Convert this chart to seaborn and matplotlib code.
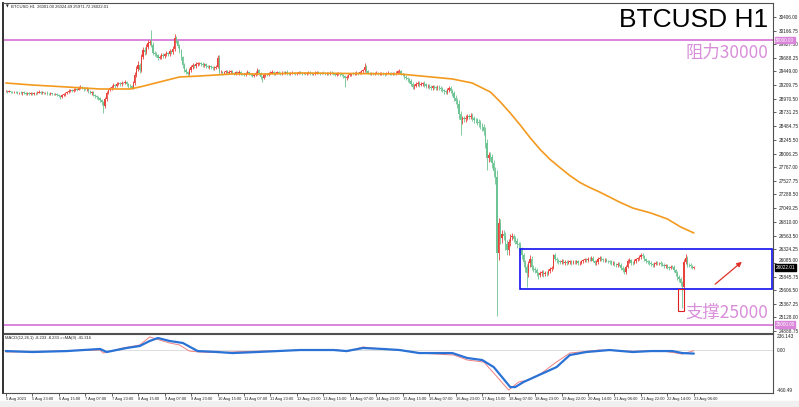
import matplotlib
matplotlib.use("Agg")
import matplotlib.pyplot as plt
import seaborn as sns
import pandas as pd
from matplotlib.patches import Rectangle

# ---------------- data ----------------
first_open = 29100
closes = [
    29110, 29095, 29102, 29088, 29080, 29092, 29085, 29070, 29075, 29066, 29080, 29072, 29060, 29068, 29058, 29062,
    29055, 29070, 29064, 29078, 29085, 29072, 29080, 29066, 29074, 29060, 29052, 29064, 29058, 29045, 29050, 29036,
    29020, 29002, 29030, 29048, 29070, 29088, 29105, 29123, 29110, 29128, 29140, 29132, 29155, 29176, 29160, 29140,
    29135, 29150, 29100, 29071, 29080, 29040, 29020, 29000, 28985, 28948, 28905, 28850, 28960, 29070, 29120, 29150,
    29180, 29211, 29195, 29225, 29240, 29220, 29250, 29246, 29265, 29230, 29200, 29185, 29165, 29240, 29380, 29500,
    29560, 29480, 29700, 29826, 29790, 29880, 29949, 29960, 29920, 29780, 29760, 29730, 29690, 29703, 29740, 29720,
    29750, 29773, 29760, 29800, 29791, 29850, 30030, 29980, 29900, 29820, 29700, 29560, 29480, 29440, 29410, 29470,
    29520, 29560, 29540, 29575, 29590, 29598, 29580, 29560, 29575, 29545, 29528, 29540, 29520, 29505, 29515, 29530,
    29690, 29440, 29445, 29420, 29435, 29450, 29430, 29440, 29455, 29425, 29410, 29435, 29420, 29445, 29410, 29400,
    29395, 29420, 29440, 29410, 29390, 29375, 29385, 29420, 29470, 29420, 29360, 29340, 29380, 29400, 29395, 29420,
    29430, 29445, 29415, 29425, 29440, 29420, 29410, 29430, 29425, 29445, 29420, 29405, 29415, 29430, 29420, 29410,
    29425, 29440, 29430, 29415, 29420, 29410, 29425, 29435, 29415, 29400, 29410, 29425, 29440, 29420, 29415, 29430,
    29420, 29410, 29425, 29415, 29430, 29420, 29405, 29395, 29410, 29420, 29400, 29385, 29370, 29330, 29360, 29390,
    29400, 29410, 29405, 29420, 29430, 29415, 29435, 29450, 29470, 29530, 29460, 29420, 29410, 29425, 29415, 29420,
    29430, 29410, 29420, 29425, 29410, 29400, 29415, 29430, 29420, 29410, 29425, 29415, 29430, 29450, 29460, 29410,
    29395, 29360, 29330, 29310, 29290, 29230, 29180, 29200, 29230, 29250, 29215, 29230, 29245, 29220, 29190, 29200,
    29175, 29160, 29190, 29170, 29150, 29180, 29160, 29140, 29120, 29100, 29085, 29120, 29160, 29110, 29070, 28990,
    28930, 28880, 28700, 28590, 28630, 28610, 28640, 28660, 28650, 28670, 28630, 28600, 28590, 28560, 28540, 28500,
    28470, 28400, 28190, 27930, 27980, 27950, 27840, 27700, 27590, 26260, 26787, 26520, 26600, 26560, 26420, 26310,
    26450, 26540, 26560, 26500, 26470, 26420, 26400, 26320, 26220, 26100, 26010, 25910, 26080, 26160, 26010, 25980,
    25960, 25900, 25870, 25900, 25925, 25890, 25910, 25905, 25950, 25980, 26000, 26220, 26150, 26130, 26110, 26100,
    26120, 26090, 26105, 26085, 26100, 26110, 26090, 26100, 26095, 26110, 26080, 26085, 26110, 26130, 26150, 26136,
    26160, 26150, 26171, 26120, 26085, 26100, 26150, 26180, 26150, 26130, 26140, 26120, 26110, 26100, 26080, 26090,
    26060, 26050, 26070, 26048, 26000, 25960, 25926, 26020, 26110, 26136, 26090, 26084, 26120, 26150, 26171, 26190,
    26230, 26200, 26150, 26110, 26100, 26080, 26060, 26048, 26070, 26090, 26080, 26084, 26060, 26050, 26030, 26040,
    26013, 26000, 26020, 26013, 25960, 25908, 25838, 25800, 25733, 25662, 26100, 26171, 26050, 26048, 26030, 26001,
    26022.01,
]
upper_wick = [
    20, 15, 25, 10, 18, 22, 12, 20, 15, 25, 10, 18, 20, 12, 15, 22,
    18, 25, 12, 20, 30, 15, 22, 10, 18, 25, 12, 20, 15, 18, 22, 15,
    20, 15, 30, 25, 18, 20, 35, 22, 15, 28, 20, 15, 30, 35, 18, 20,
    22, 30, 15, 20, 18, 25, 15, 20, 12, 18, 25, 30, 40, 35, 25, 30,
    25, 30, 20, 35, 25, 20, 30, 22, 35, 20, 15, 25, 20, 40, 60, 50,
    70, 40, 60, 50, 45, 60, 55, 40, 218, 50, 30, 35, 25, 40, 30, 35,
    30, 40, 25, 35, 30, 50, 80, 40, 30, 40, 30, 25, 35, 30, 25, 40,
    35, 30, 25, 40, 30, 25, 20, 30, 25, 20, 25, 30, 20, 25, 30, 25,
    50, 40, 25, 20, 30, 25, 20, 30, 25, 20, 15, 30, 20, 25, 20, 15,
    20, 25, 30, 15, 20, 25, 20, 30, 40, 25, 20, 15, 25, 20, 18, 22,
    20, 25, 15, 22, 18, 20, 15, 25, 20, 18, 22, 15, 20, 25, 18, 20,
    18, 22, 20, 15, 25, 18, 20, 22, 15, 18, 20, 25, 22, 18, 20, 15,
    20, 15, 22, 18, 25, 20, 15, 18, 22, 20, 15, 20, 18, 25, 20, 22,
    20, 18, 22, 25, 20, 15, 22, 25, 30, 70, 25, 20, 18, 22, 20, 18,
    22, 18, 20, 15, 22, 18, 20, 25, 18, 20, 22, 15, 25, 30, 25, 20,
    20, 25, 22, 30, 25, 35, 30, 25, 28, 35, 25, 30, 22, 28, 25, 30,
    25, 30, 28, 25, 30, 35, 25, 28, 30, 25, 22, 30, 35, 25, 30, 35,
    40, 45, 60, 50, 45, 40, 50, 45, 40, 50, 45, 40, 35, 40, 45, 50,
    50, 60, 70, 80, 60, 50, 55, 60, 70, 120, 80, 70, 60, 55, 70, 60,
    60, 50, 45, 40, 55, 45, 40, 45, 40, 35, 40, 50, 45, 60, 45, 40,
    40, 35, 30, 35, 40, 30, 35, 30, 35, 40, 30, 30, 35, 40, 30, 35,
    30, 35, 25, 30, 35, 30, 25, 30, 35, 30, 25, 30, 35, 30, 25, 30,
    30, 25, 35, 30, 25, 30, 35, 30, 25, 30, 35, 30, 25, 30, 35, 30,
    30, 25, 30, 35, 30, 25, 30, 35, 40, 30, 25, 30, 35, 30, 25, 30,
    30, 35, 30, 25, 30, 35, 30, 25, 30, 35, 30, 25, 30, 35, 30, 25,
    30, 25, 30, 35, 30, 25, 30, 35, 30, 40, 50, 70, 30, 25, 30, 25,
    2.48,
]
lower_wick = [
    15, 20, 12, 25, 18, 15, 22, 18, 20, 15, 25, 12, 18, 20, 15, 18,
    20, 15, 22, 18, 12, 25, 15, 20, 18, 22, 15, 20, 25, 18, 15, 22,
    25, 30, 20, 15, 22, 18, 20, 15, 25, 20, 18, 22, 15, 20, 25, 30,
    20, 25, 30, 22, 35, 25, 30, 28, 35, 40, 50, 131, 40, 30, 25, 20,
    25, 20, 30, 25, 20, 30, 25, 20, 25, 30, 35, 25, 30, 25, 30, 35,
    40, 60, 45, 35, 50, 40, 35, 40, 45, 50, 40, 35, 40, 30, 35, 40,
    35, 30, 40, 35, 30, 35, 40, 35, 45, 40, 50, 45, 40, 35, 40, 30,
    30, 35, 25, 30, 35, 25, 30, 25, 30, 35, 25, 30, 25, 30, 25, 20,
    25, 30, 20, 25, 20, 25, 30, 20, 25, 20, 30, 25, 20, 25, 30, 20,
    20, 25, 20, 30, 25, 20, 25, 20, 25, 30, 40, 80, 30, 25, 20, 22,
    18, 22, 20, 25, 18, 20, 22, 15, 20, 18, 25, 20, 22, 18, 20, 25,
    20, 18, 22, 20, 15, 22, 18, 20, 25, 20, 18, 22, 20, 15, 22, 18,
    22, 20, 18, 25, 20, 22, 25, 20, 18, 22, 25, 20, 30, 150, 35, 25,
    20, 22, 18, 20, 25, 20, 18, 22, 20, 25, 30, 22, 20, 18, 25, 20,
    18, 22, 20, 25, 18, 22, 20, 18, 25, 20, 18, 22, 20, 18, 25, 30,
    30, 35, 30, 40, 35, 45, 40, 35, 30, 40, 35, 30, 35, 40, 35, 30,
    30, 35, 30, 28, 35, 30, 40, 35, 30, 40, 35, 30, 40, 45, 50, 60,
    60, 80, 90, 260, 60, 50, 45, 50, 40, 45, 50, 55, 45, 50, 60, 55,
    60, 70, 80, 210, 80, 70, 90, 100, 110, 1107, 120, 110, 90, 80, 100, 90,
    80, 70, 60, 55, 60, 70, 65, 60, 70, 80, 90, 248, 70, 60, 55, 50,
    50, 45, 60, 40, 45, 50, 40, 45, 40, 35, 40, 30, 35, 40, 45, 35,
    35, 30, 35, 30, 25, 30, 35, 30, 25, 30, 35, 30, 25, 30, 35, 30,
    30, 35, 30, 25, 30, 35, 30, 25, 30, 35, 30, 25, 30, 35, 30, 25,
    30, 35, 30, 25, 35, 30, 40, 30, 25, 30, 35, 30, 25, 30, 35, 30,
    30, 25, 30, 35, 30, 25, 30, 35, 30, 25, 30, 35, 30, 25, 30, 35,
    30, 35, 30, 25, 40, 45, 50, 45, 50, 369, 40, 35, 30, 35, 30, 25,
    29.28,
]

ma_bars = [0, 16, 37, 57, 75, 81, 93, 105, 117, 137, 158, 178, 238, 270, 282, 293, 299, 305, 311,
           317, 323, 329, 335, 341, 347, 353, 359, 365, 371, 379, 390, 400, 408, 416]
ma_vals = [29246, 29211, 29176, 29141, 29141, 29176, 29264, 29352, 29369, 29405, 29405, 29422, 29405,
           29317, 29246, 29088, 28913, 28719, 28508, 28285, 28080, 27905, 27760, 27620, 27500, 27410,
           27331, 27243, 27155, 27050, 26962, 26857, 26717, 26611]

macd_bars = [0, 16, 37, 57, 61, 73, 81, 87, 92, 99, 107, 116, 128, 137, 152, 178, 198, 206, 216, 228,
             238, 250, 270, 279, 288, 295, 305, 308, 313, 325, 333, 341, 351, 365, 379, 390, 403, 409, 416]
macd_vals = [-12, -23, -12, 12, -23, 23, 46, 104, 138, 104, 81, -12, -23, -35, -23, 0, 0, -12, 23, 12,
             0, -35, -35, -92, -115, -196, -426, -426, -368, -265, -196, -58, -23, 0, -23, -12, -12, -35, -41]
sig_bars = [0, 20, 40, 57, 59, 70, 81, 87, 93, 99, 105, 111, 117, 128, 140, 160, 180, 200, 206, 216,
            228, 238, 250, 271, 279, 289, 295, 304, 310, 316, 324, 332, 341, 359, 380, 395, 409, 416]
sig_vals = [-23, -20, -5, 0, -35, 20, 58, 150, 115, 81, 58, -12, -23, -30, -20, -10, 0, 5, -20, 35,
            10, 0, -35, -58, -115, -138, -265, -460, -368, -345, -265, -150, -35, 0, -15, -5, -46, -8]

xtick_labels = ["5 Aug 2023", "5 Aug 23:00", "6 Aug 15:00", "7 Aug 07:00", "7 Aug 23:00", "8 Aug 15:00",
                "9 Aug 07:00", "9 Aug 23:00", "10 Aug 15:00", "11 Aug 07:00", "11 Aug 23:00", "12 Aug 23:00",
                "13 Aug 15:00", "14 Aug 07:00", "14 Aug 23:00", "15 Aug 15:00", "16 Aug 07:00", "16 Aug 23:00",
                "17 Aug 15:00", "18 Aug 07:00", "18 Aug 23:00", "19 Aug 22:00", "20 Aug 14:00", "21 Aug 06:00",
                "21 Aug 22:00", "22 Aug 14:00", "23 Aug 06:00"]
price_ticks = [30406.00, 30166.75, 29927.50, 29688.25, 29449.00, 29209.75, 28970.50, 28731.25, 28484.75,
               28245.50, 28006.25, 27767.00, 27527.75, 27288.50, 27049.25, 26810.00, 26563.50, 26324.25,
               26085.00, 25845.75, 25606.50, 25367.25, 25128.00, 24888.75]
resistance = 30000
support = 25000
last_price = 26022.01
range_top, range_bottom = 26331, 25627

# ---------------- figure ----------------
W, H = 799, 407
sns.set_theme(style="white")
plt.rcParams['font.family'] = ['Liberation Sans', 'DejaVu Sans', 'Noto Sans CJK SC']

fig = plt.figure(figsize=(W / 100, H / 100), dpi=100)
fig.patch.set_facecolor('white')

def fx(x):
    return x / W

def fy(y):
    return 1 - y / H

# bottom grey strip
fig.add_artist(Rectangle((0, 0), 1, fy(401), transform=fig.transFigure, color='#F0F0F0', zorder=0))

ax = fig.add_axes([fx(3), fy(333), fx(773) - fx(3), fy(3) - fy(333)])
axm = fig.add_axes([fx(3), fy(393), fx(773) - fx(3), fy(334) - fy(393)])

px0, pstep = 5.8, 1.654
xmin, xmax = (3 - px0) / pstep, (773 - px0) / pstep

n = len(closes)
opens = [first_open] + closes[:-1]
highs = [max(o, c) + u for o, c, u in zip(opens, closes, upper_wick)]
lows = [min(o, c) - d for o, c, d in zip(opens, closes, lower_wick)]
bars = list(range(n))
up_col, dn_col = '#E8423A', '#6CC493'
cols = [up_col if c >= o else dn_col for o, c in zip(opens, closes)]

ax.vlines(bars, lows, highs, colors=cols, linewidth=0.6, zorder=3)
ax.bar(bars, [max(abs(c - o), 5) for o, c in zip(opens, closes)],
       bottom=[min(o, c) for o, c in zip(opens, closes)], width=0.75, color=cols, linewidth=0, zorder=3)

ma_df = pd.DataFrame({'bar': ma_bars, 'ma': ma_vals})
sns.lineplot(data=ma_df, x='bar', y='ma', ax=ax, color='#F39A1E', linewidth=1.2, zorder=4)

pink = '#DA84DA'
ax.axhline(resistance, color=pink, linewidth=1.4, zorder=2)
ax.axhline(support, color=pink, linewidth=1.4, zorder=2)

bx0, bx1 = (520 - px0) / pstep, (772 - px0) / pstep
ax.add_patch(Rectangle((bx0, range_bottom), bx1 - bx0, range_top - range_bottom,
                       fill=False, edgecolor='#1010F0', linewidth=1.2, zorder=5))
rx0, rx1 = (678 - px0) / pstep, (684 - px0) / pstep
ax.add_patch(Rectangle((rx0, 25240), rx1 - rx0, range_bottom - 25240,
                       fill=False, edgecolor='#E02020', linewidth=0.8, zorder=5))
ax.annotate('', xy=((744 - px0) / pstep, 26136), xytext=((713 - px0) / pstep, 25680),
            arrowprops=dict(arrowstyle='-|>', color='#E0302A', lw=0.9, mutation_scale=7), zorder=6)

ax.set_xlim(xmin, xmax)
ax.set_ylim(24853.6, 30652)
ax.set_xticks([])
ax.set_xlabel('')
ax.set_ylabel('')
ax.yaxis.tick_right()
ax.set_yticks(price_ticks)
ax.set_yticklabels([f"{v:.2f}" for v in price_ticks])
ax.tick_params(axis='y', labelsize=3.4, length=2.5, width=0.5, pad=1.5, colors='#222222', right=True)
# nudge the tick label that sits just above the last-price tag
for t, lbl in zip(price_ticks, ax.get_yticklabels()):
    if t == 26085.00:
        lbl.set_verticalalignment('bottom')

# price tags on right axis
tag_tr = ax.get_yaxis_transform()
for val, txt, bg in [(resistance, '30000.00', pink), (support, '25000.00', pink), (last_price - 20, '26022.01', '#000000')]:
    ax.text(1.003, val, txt, transform=tag_tr, fontsize=3.4, color='white', va='center', ha='left',
            bbox=dict(boxstyle='square,pad=0.15', fc=bg, ec=bg), zorder=10, clip_on=False)

# MACD panel
macd_df = pd.DataFrame({'bar': macd_bars, 'v': macd_vals})
sig_df = pd.DataFrame({'bar': sig_bars, 'v': sig_vals})
axm.axhline(0, color='#D8D8D8', linewidth=0.6, zorder=1)
sns.lineplot(data=sig_df, x='bar', y='v', ax=axm, color='#F08080', linewidth=0.7, zorder=3)
sns.lineplot(data=macd_df, x='bar', y='v', ax=axm, color='#2A72D6', linewidth=1.6, zorder=4)
axm.set_xlim(xmin, xmax)
axm.set_ylim(-494, 184)
axm.set_xlabel('')
axm.set_ylabel('')
axm.set_yticks([])
axm.set_xticks(list(range(0, 16 * len(xtick_labels), 16)))
axm.set_xticklabels(xtick_labels)
axm.tick_params(axis='x', labelsize=2.9, length=2, width=0.5, pad=1.2, colors='#222222', bottom=True)
for lbl in axm.get_xticklabels():
    lbl.set_horizontalalignment('left')

for a in (ax, axm):
    for s in a.spines.values():
        s.set_color('#505050')
        s.set_linewidth(0.8)
    a.spines['left'].set_linewidth(1.4)
    a.spines['left'].set_color('#303030')

# MACD axis labels
for txt, yy in [('236.143', 336), ('0.00', 350), ('-460.49', 390)]:
    fig.text(fx(777), fy(yy), txt, fontsize=3.4, color='#222222', va='center', ha='left')

# header texts
fig.text(fx(6), fy(7), '▼', fontsize=2.6, color='#222222', va='center', ha='left', family='DejaVu Sans')
fig.text(fx(11), fy(7), 'BTCUSD,H1  26001.00 26024.49 25971.72 26022.01', fontsize=3.0,
         color='#222222', va='center', ha='left')
fig.text(fx(5), fy(338), 'MACD(12,26,1) -8.233 -8.233 ==MA(9) -41.316', fontsize=3.0,
         color='#222222', va='center', ha='left')

fig.text(fx(768), fy(20), 'BTCUSD H1', fontsize=19, color='black', va='center', ha='right',
         family='Liberation Sans')
fig.text(fx(768), fy(53), '阻力30000', fontsize=12.5, color='#D98ED9', va='center', ha='right',
         family=['Noto Sans CJK SC', 'DejaVu Sans'])
fig.text(fx(768), fy(313), '支撑25000', fontsize=12.5, color='#D98ED9', va='center', ha='right',
         family=['Noto Sans CJK SC', 'DejaVu Sans'])

fig.savefig('out.png', dpi=100)
